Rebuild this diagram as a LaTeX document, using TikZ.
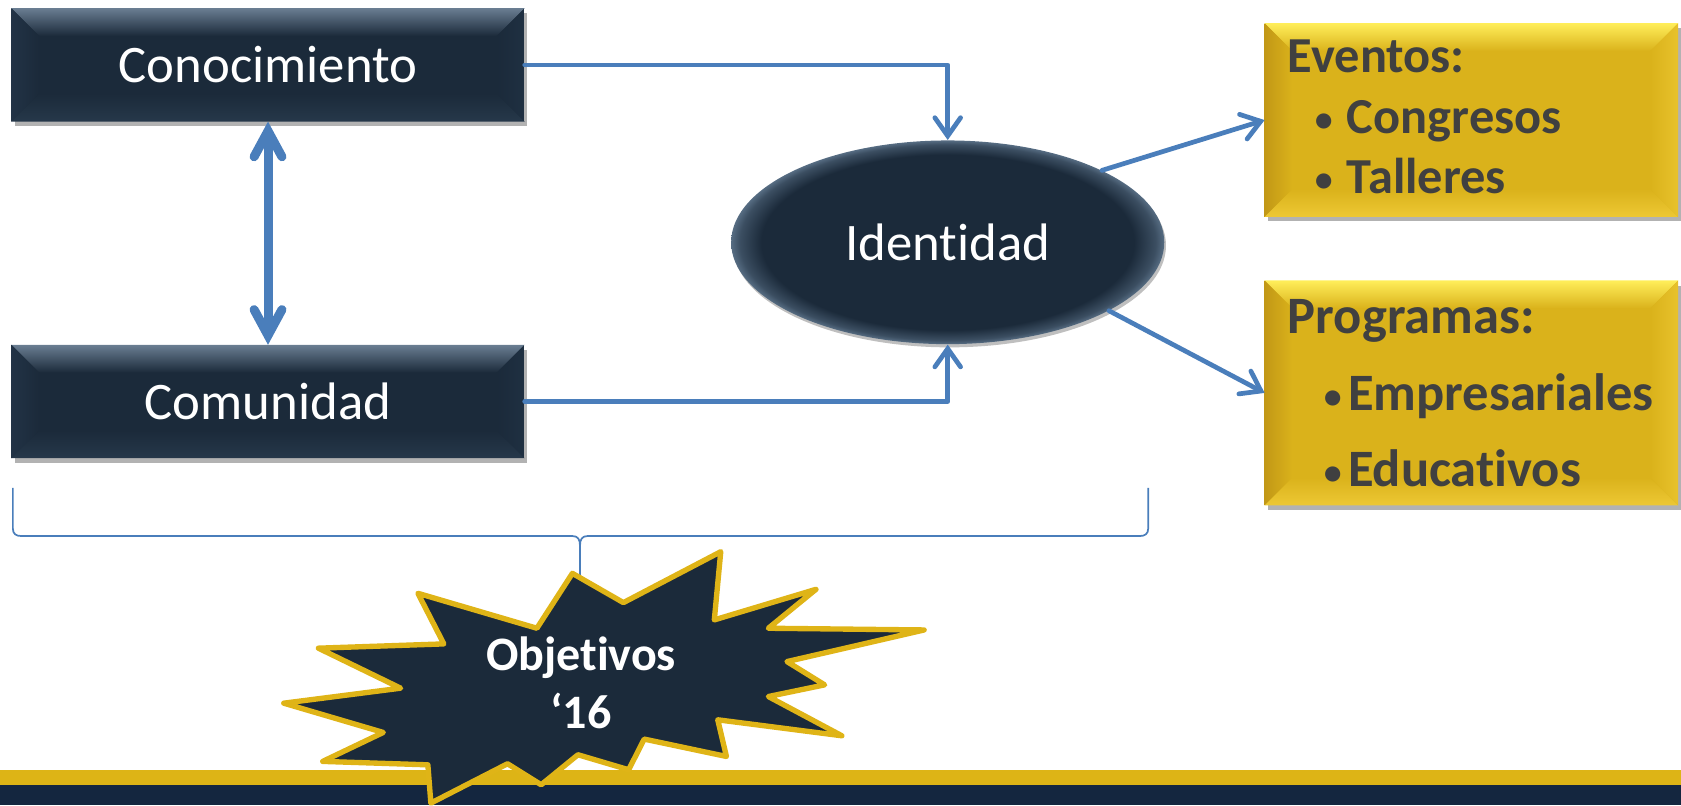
\documentclass[tikz,border=0pt]{standalone}
\usepackage{fontspec}
\setmainfont{Carlito}[Ligatures=NoCommon]
\usetikzlibrary{arrows.meta,calc,shapes.geometric,shadows}
\definecolor{navy}{HTML}{1B2A3A}
\definecolor{navytop}{HTML}{6A7E92}
\definecolor{navyleft}{HTML}{223346}
\definecolor{navybot}{HTML}{26384A}
\definecolor{navyright}{HTML}{1F3042}
\definecolor{navyrim}{HTML}{566C82}
\definecolor{gold}{HTML}{DAB21B}
\definecolor{goldtop}{HTML}{FFEE5A}
\definecolor{goldleft}{HTML}{C29816}
\definecolor{goldbot}{HTML}{EDC834}
\definecolor{goldright}{HTML}{E8C22C}
\definecolor{linkblue}{HTML}{4A7EBB}
\definecolor{txtgray}{HTML}{404040}
\definecolor{bargold}{HTML}{DDB416}
\definecolor{barnavy}{HTML}{14263F}
\definecolor{stargold}{HTML}{DFB417}
\pgfdeclareradialshading{ellrim}{\pgfpoint{0bp}{0bp}}{color(0bp)=(navy); color(21.5bp)=(navy); color(24bp)=(navyrim!55!navy); color(25bp)=(navyrim); color(50bp)=(navyrim)}
\newcommand\bevelize[6]{%
  \shade[top color=#2, bottom color=#6] (#1.north west) -- (#1.north east) -- ($(#1.north east)+(-\bv,\bv)$) -- ($(#1.north west)+(\bv,\bv)$) -- cycle;
  \shade[left color=#3, right color=#6] (#1.north west) -- ($(#1.north west)+(\bv,\bv)$) -- ($(#1.south west)+(\bv,-\bv)$) -- (#1.south west) -- cycle;
  \shade[bottom color=#4, top color=#6] (#1.south west) -- ($(#1.south west)+(\bv,-\bv)$) -- ($(#1.south east)+(-\bv,-\bv)$) -- (#1.south east) -- cycle;
  \shade[right color=#5, left color=#6] (#1.north east) -- ($(#1.north east)+(-\bv,\bv)$) -- ($(#1.south east)+(-\bv,-\bv)$) -- (#1.south east) -- cycle;
}
\def\bv{26}
\begin{document}
\begin{tikzpicture}[x=0.5pt,y=-0.5pt,
  navybox/.style={rectangle, fill=navy, minimum width=239pt, minimum height=52.5pt, inner sep=0pt,
    text=white, font=\fontsize{24.6}{30}\selectfont,
    drop shadow={shadow xshift=1.5pt, shadow yshift=-2.2pt, opacity=0.3, fill=black}},
  goldbox/.style={rectangle, fill=gold, minimum width=192.5pt, inner sep=0pt,
    drop shadow={shadow xshift=1.5pt, shadow yshift=-2.2pt, opacity=0.3, fill=black}},
  conn/.style={draw=linkblue, line width=2.2pt, line cap=round, line join=round,
    -{Straight Barb[length=8.5pt,width=12pt,line cap=round]}},
  dbl/.style={draw=linkblue, line width=4.2pt, line cap=round, line join=round,
    {Straight Barb[length=12pt,width=13pt,line cap=round]}-{Straight Barb[length=12pt,width=13pt,line cap=round]}},
  evtext/.style={text=txtgray, font=\bfseries\fontsize{23.5}{28}\selectfont, inner sep=0pt, anchor=base west},
  prtext/.style={text=txtgray, font=\bfseries\fontsize{24.5}{29}\selectfont, inner sep=0pt, anchor=base west},
  bullet/.style={text=txtgray, font=\fontsize{20}{24}\selectfont, inner sep=0pt, anchor=base},
  starshape/.style={fill=navy, draw=stargold, line width=2.5pt, line join=round},
  bracestyle/.style={draw=linkblue, line width=0.8pt}
]
\useasboundingbox (0,0) rectangle (1568,751);

% bottom bar
\fill[bargold] (0,718) rectangle (1568,732);
\fill[barnavy] (0,732) rectangle (1568,751);

% navy boxes
\node[navybox] (con) at (250,60.5) {};
\bevelize{con}{navytop}{navyleft}{navybot}{navyright}{navy}
\node[text=white, font=\fontsize{24.6}{30}\selectfont, inner sep=0pt] (contxt) at (con.center) {Conocimiento};

\node[navybox] (com) at (250,374.5) {};
\bevelize{com}{navytop}{navyleft}{navybot}{navyright}{navy}
\node[text=white, font=\fontsize{24.6}{30}\selectfont, inner sep=0pt] (comtxt) at (com.center) {Comunidad};

% ellipse
\node[ellipse, minimum width=202pt, minimum height=95pt, inner sep=0pt, shading=ellrim,
  text=white, font=\fontsize{24.6}{30}\selectfont,
  drop shadow={shadow xshift=0.8pt, shadow yshift=-1.5pt, opacity=0.25, fill=black}] (ide) at (884,226) {Identidad};

% gold boxes
\node[goldbox, minimum height=90pt] (ev) at (1372.5,112) {};
\bevelize{ev}{goldtop}{goldleft}{goldbot}{goldright}{gold}
\node[goldbox, minimum height=104.5pt] (pr) at (1372.5,366.5) {};
\bevelize{pr}{goldtop}{goldleft}{goldbot}{goldright}{gold}

\node[evtext] (evh) at (1201,68) {Eventos:};
\node[bullet] (evb1) at (1235,124.4) {•};
\node[evtext] (ev1) at (1256,124.4) {Congresos};
\node[bullet] (evb2) at (1235,180.4) {•};
\node[evtext] (ev2) at (1256,180.4) {Talleres};

\node[prtext] (prh) at (1201,311) {Programas:};
\node[bullet] (prb1) at (1244,382.5) {•};
\node[prtext] (pr1) at (1257,382.5) {Empresariales};
\node[bullet] (prb2) at (1244,454) {•};
\node[prtext] (pr2) at (1257,454) {Educativos};

% connectors
\draw[dbl] (con.south) -- (com.north);
\draw[conn] (con.east) -- (con.east -| ide.north) -- (ide.north);
\draw[conn] (com.east) -- (com.east -| ide.south) -- (ide.south);
\draw[conn] (ide.25) -- (ev.west);
\draw[conn] (ide.-23) -- (pr.west);

% brace
\draw[bracestyle] (12,455) -- (12,493) .. controls (12,498) and (15,500) .. (20,500) -- (534,500)
  .. controls (539,500) and (541,503) .. (541,509) -- (541,540);
\draw[bracestyle] (541,509) .. controls (541,503) and (543,500) .. (548,500) -- (1063,500)
  .. controls (1068,500) and (1071,498) .. (1071,493) -- (1071,455);

% starburst
\draw[starshape] (533.9,534.8) -- (581.5,562.1) -- (672.3,514.6) -- (666.3,578.2) -- (761.1,549.7)
  -- (716.7,586.0) -- (862.0,587.6) -- (734.1,617.1) -- (769.2,638.8) -- (716.7,649.7)
  -- (785.3,686.3) -- (669.5,671.4) -- (677.6,705.6) -- (600.9,689.4) -- (586.4,718)
  -- (539.1,704.0) -- (504.8,732.0) -- (473.4,712.4) -- (401.9,749.1) -- (399.1,713.4)
  -- (301.0,710.2) -- (357.5,683.2) -- (264.7,655.9) -- (373.7,641.9) -- (297.0,604.6)
  -- (414.0,600.6) -- (389.8,553.4) -- (500.8,586.0) -- cycle;
\node[text=white, font=\bfseries\fontsize{22.4}{27}\selectfont, align=center, inner sep=0pt] (obj) at (542,637) {Objetivos\\‘16};
\end{tikzpicture}
\end{document}
